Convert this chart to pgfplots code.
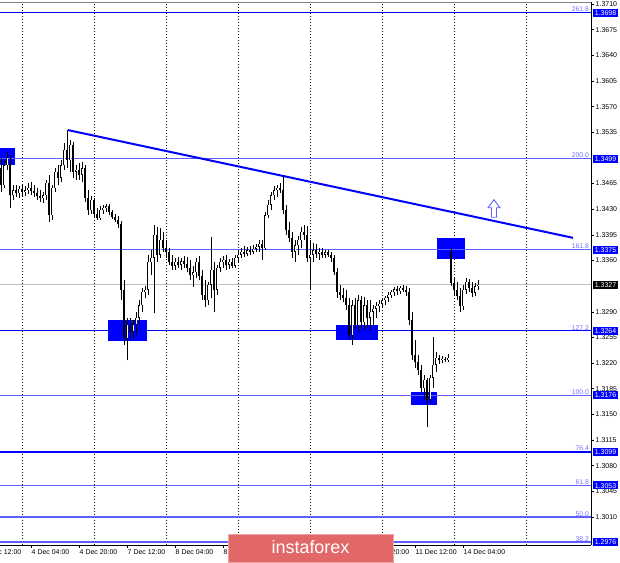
\documentclass[border=0pt]{standalone}
\usepackage{pgfplots}
\pgfplotsset{compat=1.18}
\usepackage{pgfplotstable}
\usepackage{fontspec}
\setmainfont{Liberation Sans}
\definecolor{fibblue}{RGB}{0,0,255}
\definecolor{fiblight}{RGB}{95,95,255}
\definecolor{fibtext}{RGB}{110,110,255}
\definecolor{bidgray}{RGB}{192,192,192}
\definecolor{wm}{RGB}{226,104,104}
\pgfplotstableread{
i o h l c
0 1.3486 1.3500 1.3453 1.3463
1 1.3463 1.3497 1.3459 1.3490
2 1.3490 1.3508 1.3484 1.3500
3 1.3495 1.3504 1.3432 1.3449
4 1.3449 1.3463 1.3443 1.3456
5 1.3456 1.3463 1.3447 1.3452
6 1.3452 1.3462 1.3445 1.3458
7 1.3458 1.3464 1.3447 1.3453
8 1.3453 1.3462 1.3448 1.3456
9 1.3456 1.3466 1.3451 1.3459
10 1.3459 1.3467 1.3449 1.3455
11 1.3455 1.3463 1.3447 1.3452
12 1.3452 1.3459 1.3443 1.3448
13 1.3448 1.3456 1.3440 1.3445
14 1.3445 1.3453 1.3439 1.3449
15 1.3449 1.3470 1.3443 1.3466
16 1.3466 1.3477 1.3413 1.3422
17 1.3422 1.3463 1.3415 1.3459
18 1.3459 1.3486 1.3453 1.3481
19 1.3481 1.3490 1.3463 1.3473
20 1.3473 1.3497 1.3467 1.3490
21 1.3490 1.3520 1.3484 1.3511
22 1.3511 1.3538 1.3486 1.3497
23 1.3497 1.3525 1.3481 1.3518
24 1.3518 1.3522 1.3473 1.3481
25 1.3481 1.3490 1.3470 1.3484
26 1.3484 1.3493 1.3470 1.3477
27 1.3477 1.3495 1.3467 1.3486
28 1.3486 1.3490 1.3440 1.3445
29 1.3445 1.3456 1.3422 1.3429
30 1.3429 1.3448 1.3424 1.3443
31 1.3443 1.3445 1.3418 1.3424
32 1.3424 1.3432 1.3415 1.3418
33 1.3418 1.3434 1.3415 1.3429
34 1.3429 1.3436 1.3424 1.3432
35 1.3432 1.3437 1.3426 1.3434
36 1.3434 1.3437 1.3422 1.3426
37 1.3426 1.3429 1.3417 1.3419
38 1.3419 1.3424 1.3413 1.3415
39 1.3415 1.3421 1.3404 1.3410
40 1.3410 1.3414 1.3306 1.3320
41 1.3320 1.3333 1.3245 1.3254
42 1.3254 1.3282 1.3224 1.3272
43 1.3272 1.3282 1.3252 1.3263
44 1.3263 1.3279 1.3254 1.3273
45 1.3273 1.3290 1.3258 1.3282
46 1.3282 1.3306 1.3272 1.3299
47 1.3299 1.3323 1.3290 1.3317
48 1.3317 1.3325 1.3309 1.3320
49 1.3320 1.3368 1.3313 1.3358
50 1.3358 1.3374 1.3340 1.3364
51 1.3364 1.3409 1.3288 1.3395
52 1.3395 1.3406 1.3358 1.3368
53 1.3368 1.3404 1.3364 1.3388
54 1.3388 1.3399 1.3372 1.3377
55 1.3377 1.3388 1.3364 1.3372
56 1.3372 1.3377 1.3354 1.3358
57 1.3358 1.3368 1.3347 1.3353
58 1.3353 1.3364 1.3347 1.3358
59 1.3358 1.3365 1.3350 1.3354
60 1.3354 1.3364 1.3347 1.3359
61 1.3359 1.3366 1.3350 1.3355
62 1.3355 1.3365 1.3344 1.3350
63 1.3350 1.3361 1.3333 1.3340
64 1.3340 1.3353 1.3324 1.3344
65 1.3344 1.3364 1.3336 1.3358
66 1.3358 1.3366 1.3333 1.3339
67 1.3339 1.3347 1.3306 1.3313
68 1.3313 1.3333 1.3297 1.3306
69 1.3306 1.3331 1.3299 1.3327
70 1.3327 1.3392 1.3309 1.3347
71 1.3347 1.3358 1.3290 1.3320
72 1.3320 1.3354 1.3313 1.3350
73 1.3350 1.3364 1.3344 1.3358
74 1.3358 1.3366 1.3350 1.3361
75 1.3361 1.3368 1.3347 1.3354
76 1.3354 1.3362 1.3348 1.3358
77 1.3358 1.3364 1.3350 1.3353
78 1.3353 1.3368 1.3350 1.3364
79 1.3364 1.3374 1.3358 1.3368
80 1.3368 1.3377 1.3364 1.3372
81 1.3372 1.3380 1.3365 1.3369
82 1.3369 1.3379 1.3366 1.3374
83 1.3374 1.3380 1.3368 1.3372
84 1.3372 1.3381 1.3369 1.3376
85 1.3376 1.3383 1.3371 1.3379
86 1.3379 1.3388 1.3372 1.3383
87 1.3383 1.3388 1.3361 1.3377
88 1.3377 1.3426 1.3374 1.3422
89 1.3422 1.3443 1.3418 1.3436
90 1.3436 1.3453 1.3429 1.3449
91 1.3449 1.3462 1.3443 1.3456
92 1.3456 1.3463 1.3447 1.3459
93 1.3459 1.3466 1.3452 1.3456
94 1.3456 1.3477 1.3424 1.3429
95 1.3429 1.3436 1.3395 1.3402
96 1.3402 1.3413 1.3385 1.3391
97 1.3391 1.3399 1.3364 1.3372
98 1.3372 1.3388 1.3358 1.3381
99 1.3381 1.3394 1.3368 1.3388
100 1.3388 1.3406 1.3377 1.3399
101 1.3399 1.3409 1.3388 1.3395
102 1.3395 1.3407 1.3358 1.3364
103 1.3364 1.3388 1.3320 1.3368
104 1.3368 1.3384 1.3358 1.3374
105 1.3374 1.3383 1.3364 1.3369
106 1.3369 1.3377 1.3361 1.3372
107 1.3372 1.3377 1.3364 1.3368
108 1.3368 1.3374 1.3364 1.3371
109 1.3371 1.3374 1.3365 1.3368
110 1.3368 1.3372 1.3358 1.3364
111 1.3364 1.3368 1.3340 1.3344
112 1.3344 1.3350 1.3309 1.3317
113 1.3317 1.3327 1.3306 1.3313
114 1.3313 1.3323 1.3303 1.3309
115 1.3309 1.3320 1.3293 1.3299
116 1.3299 1.3309 1.3252 1.3258
117 1.3258 1.3306 1.3245 1.3299
118 1.3299 1.3309 1.3265 1.3272
119 1.3272 1.3313 1.3263 1.3306
120 1.3306 1.3312 1.3268 1.3276
121 1.3276 1.3310 1.3265 1.3299
122 1.3299 1.3306 1.3268 1.3282
123 1.3282 1.3306 1.3265 1.3290
124 1.3290 1.3299 1.3272 1.3294
125 1.3294 1.3303 1.3282 1.3298
126 1.3298 1.3306 1.3290 1.3301
127 1.3301 1.3309 1.3295 1.3306
128 1.3306 1.3312 1.3299 1.3309
129 1.3309 1.3317 1.3303 1.3313
130 1.3313 1.3320 1.3309 1.3317
131 1.3317 1.3324 1.3312 1.3321
132 1.3321 1.3325 1.3313 1.3318
133 1.3318 1.3325 1.3314 1.3323
134 1.3323 1.3327 1.3317 1.3320
135 1.3320 1.3325 1.3312 1.3317
136 1.3317 1.3323 1.3272 1.3279
137 1.3279 1.3290 1.3224 1.3231
138 1.3231 1.3252 1.3213 1.3222
139 1.3222 1.3231 1.3204 1.3211
140 1.3211 1.3218 1.3181 1.3186
141 1.3186 1.3204 1.3170 1.3197
142 1.3197 1.3200 1.3133 1.3170
143 1.3170 1.3204 1.3167 1.3200
144 1.3200 1.3256 1.3186 1.3218
145 1.3218 1.3235 1.3208 1.3227
146 1.3227 1.3231 1.3219 1.3224
147 1.3224 1.3230 1.3220 1.3226
148 1.3226 1.3228 1.3222 1.3224
149 1.3224 1.3233 1.3222 1.3227
150 1.3372 1.3377 1.3325 1.3329
151 1.3329 1.3336 1.3313 1.3320
152 1.3320 1.3331 1.3306 1.3312
153 1.3312 1.3323 1.3290 1.3298
154 1.3298 1.3327 1.3293 1.3320
155 1.3320 1.3336 1.3314 1.3331
156 1.3331 1.3335 1.3317 1.3323
157 1.3323 1.3331 1.3310 1.3316
158 1.3316 1.3329 1.3312 1.3325
159 1.3325 1.3333 1.3320 1.3327
}\candles
\begin{document}
\begin{tikzpicture}
\begin{axis}[
  at={(0bp,18bp)}, anchor=south west,
  width=591bp, height=543bp, scale only axis,
  xmin=-0.3333, xmax=196.6667,
  ymin=1.29718, ymax=1.37128,
  clip=false,
  axis x line*=bottom, axis y line*=right,
  axis line style={black, line width=0.8bp, -},
  tick align=outside, major tick length=3bp,
  tick style={black, line width=0.6bp},
  xtick={10,26,42,58,74,122,138,154},
  xticklabels={4 Dec 04:00,4 Dec 20:00,7 Dec 12:00,8 Dec 04:00,8 Dec 20:00,10 Dec 20:00,11 Dec 12:00,14 Dec 04:00},
  xticklabel style={anchor=north west, inner sep=1bp, xshift=-0.5bp},
  ytick={1.3010,1.3045,1.3080,1.3115,1.3150,1.3185,1.3220,1.3255,1.3290,1.3360,1.3395,1.3430,1.3465,1.3535,1.3570,1.3605,1.3640,1.3675,1.3710},
  yticklabel style={inner sep=1.5bp, /pgf/number format/.cd, fixed, fixed zerofill, precision=4, assume math mode=true},
  scaled y ticks=false,
  ticklabel style={font=\fontsize{7}{8}\selectfont},
  extra x ticks={7,31,55,79,103,127,151,175},
  extra x tick labels={},
  extra x tick style={grid=major, major tick length=0pt},
  major grid style={black, line width=0.6bp, dash pattern=on 1.4bp off 1.6bp},
]
% bid line
\addplot[bidgray, line width=0.8bp, forget plot] coordinates {(-0.3333,1.3327) (196.6667,1.3327)};
% blue zones
\addplot[fill=fibblue, draw=none, forget plot] coordinates {(-0.3333,1.3514) (4.67,1.3514) (4.67,1.3490) (-0.3333,1.3490)} --cycle;
\addplot[fill=fibblue, draw=none, forget plot] coordinates {(35.67,1.3279) (48.67,1.3279) (48.67,1.3250) (35.67,1.3250)} --cycle;
\addplot[fill=fibblue, draw=none, forget plot] coordinates {(111.67,1.3272) (125.67,1.3272) (125.67,1.3252) (111.67,1.3252)} --cycle;
\addplot[fill=fibblue, draw=none, forget plot] coordinates {(136.67,1.3181) (145.33,1.3181) (145.33,1.3163) (136.67,1.3163)} --cycle;
\addplot[fill=fibblue, draw=none, forget plot] coordinates {(145.33,1.3391) (154.67,1.3391) (154.67,1.3362) (145.33,1.3362)} --cycle;
% fibonacci levels
\addplot[fibblue, line width=1.0bp] coordinates {(-0.3333,1.3698) (196.6667,1.3698)};
\addplot[fiblight, line width=1.6bp] coordinates {(-0.3333,1.3499) (196.6667,1.3499)};
\addplot[fiblight, line width=1.4bp] coordinates {(-0.3333,1.3375) (196.6667,1.3375)};
\addplot[fibblue, line width=1.0bp] coordinates {(-0.3333,1.3264) (196.6667,1.3264)};
\addplot[fiblight, line width=1.1bp] coordinates {(-0.3333,1.3176) (196.6667,1.3176)};
\addplot[fibblue, line width=1.8bp] coordinates {(-0.3333,1.3099) (196.6667,1.3099)};
\addplot[fiblight, line width=1.6bp] coordinates {(-0.3333,1.3053) (196.6667,1.3053)};
\addplot[fiblight, line width=1.2bp] coordinates {(-0.3333,1.3010) (196.6667,1.3010)};
\addplot[fiblight, line width=1.4bp] coordinates {(-0.3333,1.2976) (196.6667,1.2976)};
% trend line
\addplot[fibblue, line width=2bp] coordinates {(22.33,1.3538) (190.67,1.3391)};
% arrow
\addplot[fiblight, line width=0.9bp] coordinates {(164.33,1.3443) (166.33,1.3432) (165.17,1.3432) (165.17,1.3419) (163.5,1.3419) (163.5,1.3432) (162.33,1.3432)} --cycle;
% candles: wicks
\addplot[draw=none, mark=none, forget plot, error bars/.cd, y dir=plus, y explicit, error mark=none,
  error bar style={draw=black, line width=0.9bp, solid}]
  table[x=i, y=l, y error plus expr=\thisrow{h}-\thisrow{l}] {\candles};
% bodies
\addplot[draw=none, mark=none, forget plot, error bars/.cd, y dir=plus, y explicit, error mark=none,
  error bar style={draw=black, line width=2.4bp, solid}]
  table[x=i, y expr={min(\thisrow{o},\thisrow{c})}, y error plus expr={max(abs(\thisrow{c}-\thisrow{o}),0.00005)}] {\candles};
% bull interiors
\addplot[draw=none, mark=none, forget plot, restrict y to domain=1.2:1.5, error bars/.cd, y dir=plus, y explicit, error mark=none,
  error bar style={draw=white, line width=0.8bp, solid}]
  table[x=i, y expr={ifthenelse(\thisrow{c}>\thisrow{o}+0.00015, \thisrow{o}+0.00006, 0)}, y error plus expr={\thisrow{c}-\thisrow{o}-0.00012}] {\candles};
% fib level texts
\foreach \lv/\tx in {1.3698/261.8,1.3499/200.0,1.3375/161.8,1.3264/127.2,1.3176/100.0,1.3099/76.4,1.3053/61.8,1.3010/50.0,1.2976/38.2}{
  \edef\tmp{\noexpand\node[anchor=south east, text=fibtext, font=\noexpand\fontsize{6.8}{6.8}\noexpand\selectfont, inner sep=0.6bp] at (axis cs:196.2,\lv) {\tx};}
  \tmp
}
\coordinate (L1) at (axis cs:196.6667,1.3698);
\coordinate (L2) at (axis cs:196.6667,1.3499);
\coordinate (L3) at (axis cs:196.6667,1.3375);
\coordinate (L4) at (axis cs:196.6667,1.3264);
\coordinate (L5) at (axis cs:196.6667,1.3176);
\coordinate (L6) at (axis cs:196.6667,1.3099);
\coordinate (L7) at (axis cs:196.6667,1.3053);
\coordinate (L9) at (axis cs:196.6667,1.2976);
\coordinate (BID) at (axis cs:196.6667,1.3327);
\coordinate (X0) at (axis cs:-6,1.29718);
\coordinate (TL) at (axis cs:-0.3333,1.37128);
\coordinate (TR) at (axis cs:196.6667,1.37128);
\end{axis}
\draw[gray, line width=0.8bp] (TL) -- (TR);
\node[anchor=north west, inner sep=1bp, font=\fontsize{7}{8}\selectfont, yshift=-3bp, xshift=-0.5bp] at (X0) {3 Dec 12:00};
\tikzset{lvbox/.style={anchor=west, xshift=1.5bp, fill=fibblue, text=white, inner xsep=2.2bp, inner ysep=1.4bp, text height=5.2bp, text depth=0bp, font=\fontsize{7}{7}\selectfont}}
\node[lvbox] at (L1) {1.3698};
\node[lvbox] at (L2) {1.3499};
\node[lvbox] at (L3) {1.3375};
\node[lvbox] at (L4) {1.3264};
\node[lvbox] at (L5) {1.3176};
\node[lvbox] at (L6) {1.3099};
\node[lvbox] at (L7) {1.3053};
\node[lvbox] at (L9) {1.2976};
\node[lvbox, fill=black] at (BID) {1.3327};
% watermark
\fill[wm] (228bp,1bp) rectangle (393bp,29bp);
\draw[wm!60!white, line width=0.6bp] (228bp,1bp) rectangle (393bp,29bp);
\node[text=white, font=\fontsize{18}{18}\selectfont, inner sep=0pt] at (310.5bp,15.5bp) {instaforex};
\pgfresetboundingbox
\useasboundingbox (0,0) rectangle (620bp,563bp);
\end{tikzpicture}
\end{document}
